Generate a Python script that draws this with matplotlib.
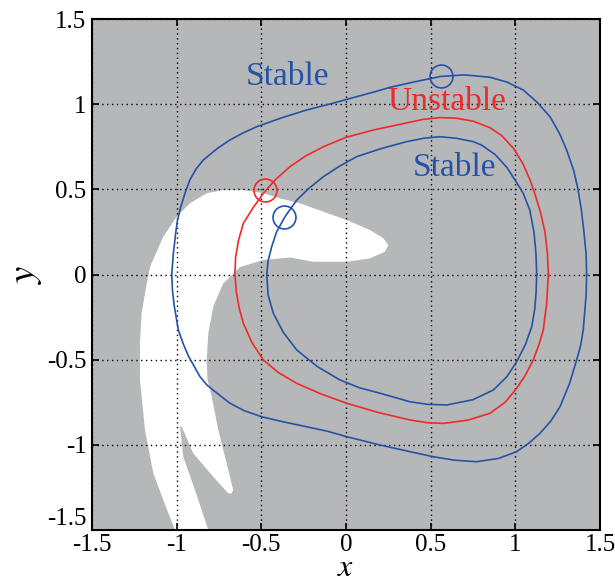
import matplotlib
matplotlib.use("Agg")
import matplotlib.pyplot as plt
from matplotlib.patches import Polygon

plt.rcParams['font.family'] = ['Liberation Serif', 'DejaVu Serif']
plt.rcParams['mathtext.fontset'] = 'stix'

# ---- data ----
outer_x = [1.421, 1.418, 1.405, 1.39, 1.37, 1.345, 1.303, 1.26, 1.205, 1.13, 1.047, 0.95, 0.85, 0.70,
           0.56, 0.40, 0.26, 0.16, 0.063, -0.08, -0.232, -0.38, -0.527, -0.61, -0.685, -0.76, -0.843,
           -0.885, -0.92, -0.95, -0.975, -0.995, -1.005, -1.02, -1.029, -1.025, -1.015, -0.99, -0.96,
           -0.93, -0.862, -0.82, -0.77, -0.685, -0.60, -0.498, -0.37, -0.232, -0.11, 0.004, 0.201,
           0.378, 0.516, 0.64, 0.772, 0.90, 1.008, 1.08, 1.146, 1.21, 1.264, 1.32, 1.362, 1.385, 1.401,
           1.418, 1.421]
outer_y = [0.0, 0.12, 0.25, 0.38, 0.50, 0.61, 0.731, 0.83, 0.926, 1.01, 1.083, 1.13, 1.158, 1.172,
           1.163, 1.13, 1.099, 1.07, 1.044, 1.005, 0.966, 0.92, 0.868, 0.83, 0.790, 0.74, 0.672,
           0.62, 0.56, 0.48, 0.40, 0.32, 0.25, 0.12, 0.0, -0.09, -0.18, -0.326, -0.41,
           -0.48, -0.600, -0.65, -0.69, -0.756, -0.80, -0.835, -0.865, -0.894, -0.92, -0.952, -1.001,
           -1.040, -1.070, -1.09, -1.099, -1.08, -1.040, -0.99, -0.932, -0.86, -0.776, -0.64, -0.502, -0.42, -0.326,
           -0.12, 0.0]

red_x = [1.195, 1.19, 1.175, 1.15, 1.12, 1.087, 1.045, 0.99, 0.92, 0.85, 0.752, 0.65, 0.555, 0.457,
         0.161, 0.0, -0.134, -0.24, -0.331, -0.419, -0.488, -0.55, -0.606, -0.635, -0.652, -0.656,
         -0.648, -0.630, -0.606, -0.555, -0.488, -0.40, -0.291, -0.15, 0.004, 0.19, 0.378, 0.48,
         0.575, 0.72, 0.850, 0.94, 1.008, 1.06, 1.106, 1.14, 1.165, 1.185, 1.195]
red_y = [0.0, 0.12, 0.25, 0.36, 0.46, 0.555, 0.65, 0.74, 0.815, 0.862, 0.900, 0.918, 0.921, 0.911,
         0.848, 0.805, 0.750, 0.695, 0.633, 0.555, 0.477, 0.39, 0.301, 0.2, 0.1, 0.0,
         -0.1, -0.2, -0.287, -0.4, -0.502, -0.575, -0.639, -0.70, -0.756, -0.81, -0.854, -0.870,
         -0.874, -0.855, -0.815, -0.75, -0.668, -0.59, -0.502, -0.41, -0.326, -0.17, 0.0]

inner_x = [1.126, 1.122, 1.11, 1.085, 1.045, 0.998, 0.949, 0.88, 0.80, 0.752, 0.65, 0.555, 0.46,
           0.358, 0.21, 0.063, -0.04, -0.134, -0.22, -0.291, -0.360, -0.41, -0.439, -0.46, -0.468,
           -0.46, -0.429, -0.37, -0.291, -0.17, -0.036, 0.08, 0.201, 0.378, 0.48, 0.595, 0.75, 0.870,
           0.95, 1.008, 1.06, 1.097, 1.115, 1.123, 1.126]
inner_y = [0.0, 0.12, 0.25, 0.38, 0.48, 0.555, 0.630, 0.705, 0.760, 0.780, 0.800, 0.809, 0.800,
           0.780, 0.74, 0.692, 0.635, 0.574, 0.505, 0.437, 0.340, 0.25, 0.163, 0.08, 0.0,
           -0.12, -0.228, -0.34, -0.443, -0.54, -0.619, -0.665, -0.697, -0.747, -0.762, -0.766, -0.735, -0.678,
           -0.60, -0.512, -0.41, -0.306, -0.2, -0.1, 0.0]

basin_x = [-1.010, -1.079, -1.138, -1.187, -1.217, -1.217, -1.207, -1.187, -1.157, -1.079, -1.000,
           -0.921, -0.823, -0.725, -0.606, -0.488, -0.390, -0.272, -0.134, 0.004, 0.142, 0.220, 0.250,
           0.230, 0.142, 0.004, -0.193, -0.331, -0.488, -0.626, -0.725, -0.784, -0.813, -0.823, -0.818,
           -0.793, -0.754, -0.705, -0.666, -0.675, -0.695, -0.784, -0.902, -0.970, -0.980, -0.961,
           -0.892, -0.813]
basin_y = [-1.500, -1.324, -1.167, -0.913, -0.619, -0.404, -0.228, -0.110, 0.046, 0.222, 0.339,
           0.418, 0.477, 0.496, 0.496, 0.477, 0.447, 0.418, 0.369, 0.320, 0.261, 0.213, 0.173,
           0.134, 0.095, 0.075, 0.075, 0.100, 0.085, 0.044, -0.052, -0.189, -0.345, -0.502, -0.619,
           -0.717, -0.913, -1.108, -1.265, -1.285, -1.285, -1.187, -1.050, -0.894, -0.890, -1.070,
           -1.265, -1.500]

marker_x = [0.561, -0.478, -0.365]
marker_y = [1.165, 0.494, 0.339]
marker_c = ['blue', 'red', 'blue']

labels = ['Stable', 'Unstable', 'Stable']
label_x = [-0.348, 0.597, 0.642]
label_y = [1.160, 1.016, 0.625]
label_c = ['blue', 'red', 'blue']

ticks = [-1.5, -1, -0.5, 0, 0.5, 1, 1.5]
tick_labels = ['-1.5', '-1', '-0.5', '0', '0.5', '1', '1.5']

# ---- style ----
BLUE = '#2453A6'
RED = '#EE2B2B'
GRAY = '#B6B7B9'
cmap = {'blue': BLUE, 'red': RED}

fig = plt.figure(figsize=(6.15, 5.85), dpi=100)
ax = fig.add_axes([0.1496, 0.094, 0.826, 0.8735])
ax.set_facecolor(GRAY)
ax.set_xlim(-1.5, 1.5)
ax.set_ylim(-1.5, 1.5)

ax.add_patch(Polygon(list(zip(basin_x, basin_y)), closed=True, facecolor='white',
                     edgecolor='none', zorder=1))

ax.grid(True, color='black', linestyle=(0, (1, 2.5)), linewidth=1.0, zorder=2)
ax.set_axisbelow(False)

ax.plot(outer_x, outer_y, color=BLUE, lw=1.2, zorder=3)
ax.plot(red_x, red_y, color=RED, lw=1.2, zorder=3)
ax.plot(inner_x, inner_y, color=BLUE, lw=1.2, zorder=3)

for mx, my, mc in zip(marker_x, marker_y, marker_c):
    ax.plot([mx], [my], marker='o', ms=16.5, mfc='none', mec=cmap[mc], mew=1.2, zorder=4)

for t, tx, ty, tc in zip(labels, label_x, label_y, label_c):
    ax.text(tx, ty, t, color=cmap[tc], fontsize=24, ha='center', va='center', zorder=5)

ax.set_xticks(ticks)
ax.set_yticks(ticks)
ax.set_xticklabels(tick_labels)
ax.set_yticklabels(tick_labels)
ax.tick_params(direction='in', top=True, right=True, length=5, width=1.2,
               labelsize=18)
ax.tick_params(axis='x', pad=3)
ax.tick_params(axis='y', pad=4)
ax.get_yticklabels()[0].set_va('bottom')
for s in ax.spines.values():
    s.set_linewidth(1.5)

fig.text(0.562, 1.5 / 585, '$x$', fontsize=23, ha='center', va='bottom')
ax.set_ylabel('$y$', fontsize=28, labelpad=2)

fig.savefig('out.png', dpi=100)
